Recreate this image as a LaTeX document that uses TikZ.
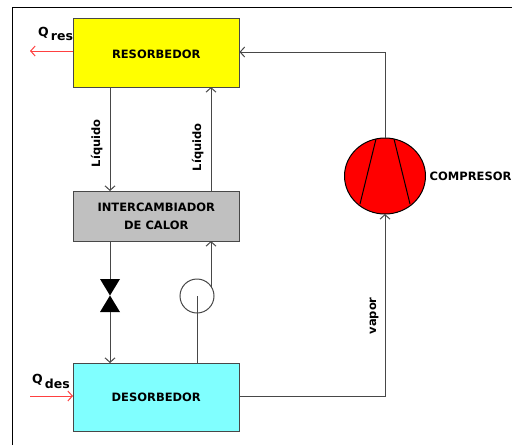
\documentclass[tikz,border=0pt]{standalone}
\usepackage{fontspec}
\setmainfont{DejaVu Sans}
\usetikzlibrary{arrows.meta,positioning,calc,shapes.geometric}
\definecolor{softyellow}{RGB}{255,255,0}
\definecolor{softgray}{RGB}{192,192,192}
\definecolor{softcyan}{RGB}{128,255,255}
\definecolor{softred}{RGB}{255,64,64}
\definecolor{linegray}{RGB}{72,72,72}
\tikzset{
  unitbox/.style={draw=linegray, line width=1pt, outer sep=0pt, inner sep=0pt, minimum width=166.5pt, align=center, font=\fontsize{11.5}{18}\selectfont\bfseries},
  flow/.style={-{Straight Barb[length=4.5pt,width=10pt]}, draw=linegray, line width=1pt},
  heat/.style={-{Straight Barb[length=4.5pt,width=10pt]}, draw=softred, line width=1pt},
  tag/.style={font=\fontsize{11.5}{12}\selectfont\bfseries, inner sep=0pt}
}
\begin{document}
\begin{tikzpicture}[x=1pt, y=-1pt, node distance=1cm]
    \useasboundingbox (0,0) rectangle (512,445);
    \fill[white] (0,0) rectangle (512,445);
    \draw[line width=1.5pt] (12.5,445) -- (12.5,7.5) -- (512,7.5);
    \node[unitbox, fill=softyellow, minimum height=69pt, anchor=north west, text height=12pt] (resorbedor) at (73,18) {RESORBEDOR};
    \node[unitbox, fill=softgray, minimum height=50pt, below=104pt of resorbedor] (intercambiador) {INTERCAMBIADOR\\DE CALOR};
    \node[unitbox, fill=softcyan, minimum height=68.5pt, below=122pt of intercambiador] (desorbedor) {DESORBEDOR};
    \node[draw=black, fill=red, ellipse, line width=1pt, outer sep=0pt, minimum width=81pt, minimum height=76pt] (compresor) at (385,176) {};
    \draw[line width=1pt] (376,139) -- (360,204);
    \draw[line width=1pt] (394,139) -- (410,204);
    \node[tag, right=4pt of compresor] (compresorlabel) {COMPRESOR};
    \node[draw=linegray, circle, line width=1pt, outer sep=0pt, minimum size=34pt, inner sep=0pt] (bomba) at (197,296) {};
    % valve
    \coordinate (valvetop) at (110,279);
    \coordinate (valvebot) at (110,312);
    \fill (valvetop) ++(-10,0) -- ++(20,0) -- ++(-20,33) -- ++(20,0) -- cycle;
    % liquid lines
    \draw[flow] (resorbedor.south -| valvetop) -- node[pos=0.54, tag, rotate=90, left=7pt, anchor=south] (liquidoa) {Líquido} (intercambiador.north -| valvetop);
    \coordinate (bombaout) at (211,287);
    \draw[flow] (intercambiador.north -| bombaout) -- node[pos=0.42, tag, rotate=90, left=7pt, anchor=south] (liquidob) {Líquido} (resorbedor.south -| bombaout);
    \draw[linegray, line width=1pt] (intercambiador.south -| valvetop) -- (valvetop);
    \draw[flow] (valvebot) -- (desorbedor.north -| valvebot);
    \draw[linegray, line width=1pt] (desorbedor.north -| bomba) -- (bomba.center);
    \draw[flow] (bombaout) -- (intercambiador.south -| bombaout);
    % vapor
    \coordinate (desout) at (239.5,396);
    \coordinate (resin) at (239.5,52);
    \draw[flow] (desout) -| node[pos=0.72, tag, rotate=90, left=6pt, anchor=south] (vapor) {vapor} (compresor.south);
    \draw[flow] (compresor.north) |- (resin);
    % heat
    \coordinate (qresend) at (30,51);
    \coordinate (qdesstart) at (30,396);
    \draw[heat] (qresend -| resorbedor.west) -- (qresend);
    \draw[heat] (qdesstart) -- (qdesstart -| desorbedor.west);
    \node[tag, font=\fontsize{12.5}{14}\selectfont\bfseries, anchor=west] (qres) at (38,34) {Q\,\raisebox{-4pt}{res}};
    \node[tag, font=\fontsize{12.5}{14}\selectfont\bfseries, anchor=west] (qdes) at (32,381) {Q\,\raisebox{-5pt}{des}};
  \end{tikzpicture}
\end{document}
